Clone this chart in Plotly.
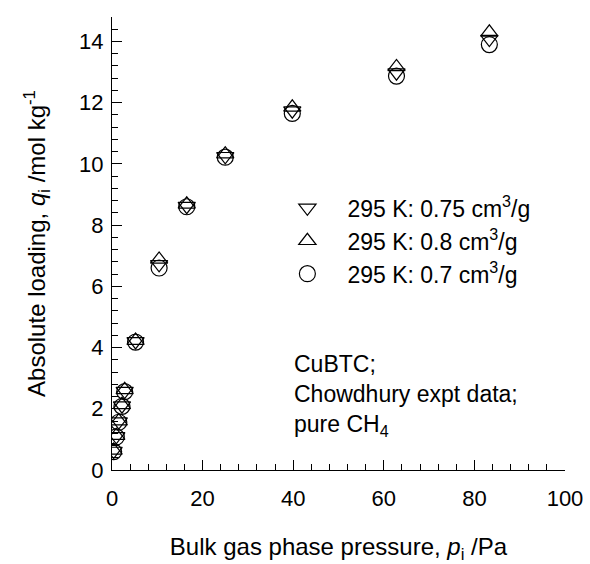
import plotly.graph_objects as go

# Data
p_bulk = [0.36, 0.95, 1.5, 2.2, 2.8, 5.2, 10.4, 16.5, 25.0, 39.8, 62.8, 83.3]
q_075 = [0.62, 1.10, 1.58, 2.10, 2.58, 4.20, 6.72, 8.62, 10.25, 11.74, 12.98, 14.08]
q_080 = [0.64, 1.12, 1.60, 2.13, 2.62, 4.23, 6.88, 8.68, 10.32, 11.85, 13.17, 14.30]
q_070 = [0.60, 1.08, 1.56, 2.08, 2.56, 4.18, 6.60, 8.60, 10.22, 11.65, 12.87, 13.90]

series_names = ["295 K: 0.75 cm<sup>3</sup>/g", "295 K: 0.8 cm<sup>3</sup>/g", "295 K: 0.7 cm<sup>3</sup>/g"]
series_q = [q_075, q_080, q_070]
series_symbols = ["triangle-down-open", "triangle-up-open", "circle-open"]
series_sizes = [15, 15, 16]

FONT = "Liberation Sans, Arial, sans-serif"

fig = go.Figure()
for name, q, sym, sz in zip(series_names, series_q, series_symbols, series_sizes):
    fig.add_trace(go.Scatter(
        x=p_bulk, y=q, mode="markers", name=name,
        marker=dict(symbol=sym, size=sz, color="black", line=dict(color="black", width=1.2)),
    ))

fig.add_annotation(
    xref="paper", yref="paper", x=0.398, y=0.268, xanchor="left", yanchor="top",
    align="left", showarrow=False,
    text="CuBTC;<br>Chowdhury expt data;<br>pure CH<sub>4</sub>",
    font=dict(family=FONT, size=23, color="black"),
)

fig.update_layout(
    width=590, height=564,
    margin=dict(l=112, r=25, t=17, b=94),
    paper_bgcolor="white", plot_bgcolor="white",
    font=dict(family=FONT, size=22, color="black"),
    showlegend=True,
    legend=dict(x=0.343, y=0.626, xanchor="left", yanchor="top",
                bgcolor="rgba(0,0,0,0)", font=dict(family=FONT, size=23),
                itemwidth=70),
    xaxis=dict(
        range=[0, 100], dtick=20, tick0=0, automargin=False,
        showline=True, linecolor="black", linewidth=1,
        ticks="inside", ticklen=10, tickwidth=1, tickcolor="black",
        minor=dict(dtick=4, ticks="inside", ticklen=6, tickcolor="black"),
        showgrid=False, zeroline=False,
        ticklabelstandoff=9,
        title=dict(text="Bulk gas phase pressure, <i>p</i><sub>i</sub> /Pa", standoff=30,
                   font=dict(family=FONT, size=24)),
    ),
    yaxis=dict(
        range=[0, 14.8], dtick=2, tick0=0, automargin=False,
        showline=True, linecolor="black", linewidth=1,
        ticks="inside", ticklen=10, tickwidth=1, tickcolor="black",
        minor=dict(dtick=0.4, ticks="inside", ticklen=6, tickcolor="black"),
        showgrid=False, zeroline=False,
        ticklabelstandoff=3,
        title=dict(text="Absolute loading, <i>q</i><sub>i</sub> /mol kg<sup>-1</sup>", standoff=26,
                   font=dict(family=FONT, size=24)),
    ),
)

fig.write_html("out.html")
